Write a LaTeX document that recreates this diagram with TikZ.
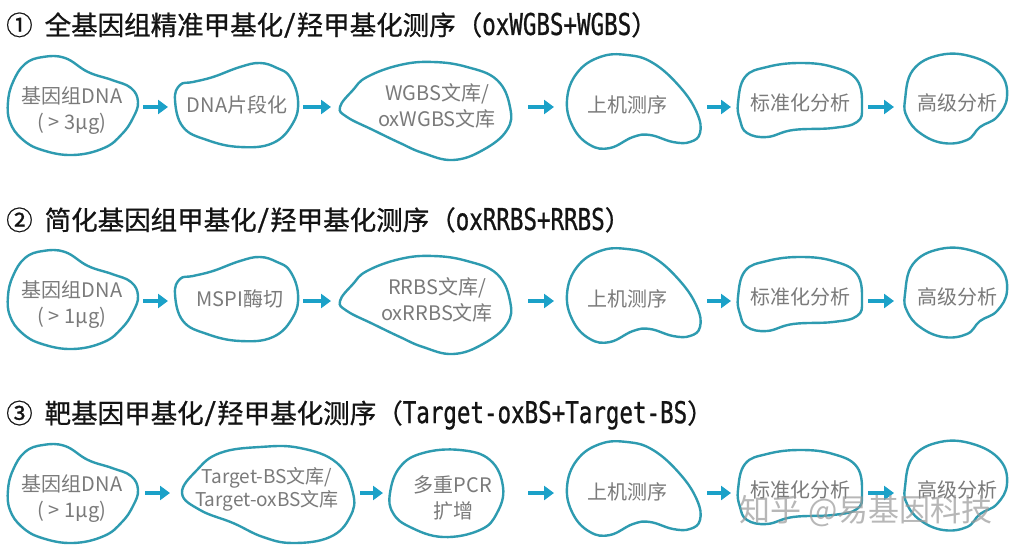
\documentclass[tikz,border=0pt]{standalone}
\usepackage{fontspec}
\setmainfont{Noto Sans CJK SC}
\newfontfamily\ttlcjk[FakeBold=0.8]{Noto Sans CJK SC}
\newfontfamily\ttlat[FakeStretch=0.75,FakeBold=0.8]{DejaVu Sans Mono}
\usetikzlibrary{arrows.meta}
\definecolor{blobc}{HTML}{2E9BB0}
\definecolor{arrc}{HTML}{1BA1C8}
\definecolor{txtc}{HTML}{7A7A7A}
\definecolor{ttlc}{HTML}{141414}
\newcommand\lat[1]{{\ttlat\fontsize{30}{30}\selectfont #1}}
\newcommand\blobA[1]{\draw[blob,shift={#1}] plot[smooth cycle,tension=0.7] coordinates {(-29,-48) (-7,-47) (16,-33) (40,-25) (59,-17) (66,-3) (61,13) (50,29) (32,43) (1,50) (-30,45) (-50,34) (-62,17) (-64,-3) (-59,-23) (-47,-41)};}
\newcommand\blobB[1]{\draw[blob,shift={#1}] plot[smooth cycle,tension=0.7] coordinates {(-62,-5) (-57,-20) (-44,-23) (-24,-28) (3,-38) (23,-42) (40,-37) (53,-28) (61,-5) (56,18) (36,38) (3,42) (-30,35) (-54,22)};}
\newcommand\blobC[1]{\draw[blob,shift={#1}] plot[smooth cycle,tension=0.7] coordinates {(-97,2) (-84,-15) (-70,-28) (-37,-40) (-4,-43) (30,-38) (60,-25) (73,2) (70,25) (46,45) (16,55) (-14,48) (-37,38) (-64,25) (-90,12)};}
\newcommand\blobD[1]{\draw[blob,shift={#1}] plot[smooth cycle,tension=0.7] coordinates {(-60,-5) (-50,-32) (-27,-48) (0,-50) (26,-42) (53,-18) (70,8) (73,28) (63,37) (46,37) (23,30) (6,32) (-17,43) (-37,40) (-54,22)};}
\newcommand\blobE[1]{\draw[blob,shift={#1}] plot[smooth cycle,tension=0.7] coordinates {(-62,0) (-55,-26) (-33,-36) (0,-40) (33,-36) (57,-23) (62,4) (57,19) (33,25) (-7,27) (-33,34) (-53,30) (-60,17)};}
\newcommand\blobF[1]{\draw[blob,shift={#1}] plot[smooth cycle,tension=0.7] coordinates {(-52,-3) (-44,-33) (-17,-48) (16,-46) (43,-30) (50,-6) (40,14) (23,24) (10,37) (-14,40) (-37,30) (-50,14)};}
\newcommand\blobT[1]{\draw[blob,shift={#1}] plot[smooth cycle,tension=0.7] coordinates {(-83,5) (-68,-18) (-45,-35) (-5,-41) (35,-40) (72,-25) (88,5) (85,29) (65,49) (28,55) (-2,49) (-32,35) (-65,22)};}
\newcommand\blobP[1]{\draw[blob,shift={#1}] plot[smooth cycle,tension=0.7] coordinates {(-63,-4) (-53,-30) (-30,-44) (7,-47) (37,-37) (50,-10) (44,16) (27,33) (-10,40) (-43,30) (-60,16)};}
\newcommand\flowarr[4]{\coordinate (#1s) at (#2,#4); \coordinate (#1e) at (#3,#4); \draw[arr] (#1s) -- (#1e);}
\begin{document}
\begin{tikzpicture}[x=1pt,y=-1pt,
  blob/.style={draw=blobc,line width=2.4pt},
  txt/.style={text=txtc,font=\fontsize{20}{26}\selectfont,align=center,inner sep=0pt},
  arr/.style={draw=arrc,line width=4pt,-{Triangle[length=10pt,width=14pt]}},
  ttl/.style={anchor=west,text=ttlc,font=\ttlcjk\fontsize{26.5}{30}\selectfont,inner sep=0pt}]
\useasboundingbox[fill=white] (0,0) rectangle (1014,553);
% titles
\node[ttl] (t1) at (6,25) {①\hspace{12pt}全基因组精准甲基化\lat{/}羟甲基化测序（\lat{oxWGBS+WGBS}）};
\node[ttl] (t2) at (6,220) {②\hspace{12pt}简化基因组甲基化\lat{/}羟甲基化测序（\lat{oxRRBS+RRBS}）};
\node[ttl] (t3) at (6,415) {③\hspace{12pt}靶基因甲基化\lat{/}羟甲基化测序（\lat{Target-oxBS+Target-BS}）};
% row 1
\blobA{(72,105)} \blobB{(237,105)} \blobC{(437,105)} \blobD{(627,105)} \blobE{(800,103)} \blobF{(957,103)}
\node[txt] (r1n1) at (72,111) {基因组DNA\\( > 3µg)};
\node[txt] (r1n2) at (237,105) {DNA片段化};
\node[txt] (r1n3) at (437,106) {WGBS文库/\\oxWGBS文库};
\node[txt] (r1n4) at (627,105) {上机测序};
\node[txt] (r1n5) at (800,103) {标准化分析};
\node[txt] (r1n6) at (957,103) {高级分析};
\flowarr{r1a1}{143}{168}{107}
\flowarr{r1a2}{303}{331}{107}
\flowarr{r1a3}{528}{554}{107}
\flowarr{r1a4}{707}{731}{107}
\flowarr{r1a5}{868}{894}{107}
% row 2
\blobA{(72,299)} \blobB{(237,299)} \blobC{(437,299)} \blobD{(627,299)} \blobE{(800,297)} \blobF{(957,297)}
\node[txt] (r2n1) at (72,305) {基因组DNA\\( > 1µg)};
\node[txt] (r2n2) at (240,299) {MSPI酶切};
\node[txt] (r2n3) at (437,300) {RRBS文库/\\oxRRBS文库};
\node[txt] (r2n4) at (627,299) {上机测序};
\node[txt] (r2n5) at (800,297) {标准化分析};
\node[txt] (r2n6) at (957,297) {高级分析};
\flowarr{r2a1}{143}{168}{301}
\flowarr{r2a2}{303}{331}{301}
\flowarr{r2a3}{528}{554}{301}
\flowarr{r2a4}{707}{731}{301}
\flowarr{r2a5}{868}{894}{301}
% row 3
\blobA{(72,493)} \blobT{(265,488)} \blobP{(453,497)} \blobD{(627,492)} \blobE{(800,490)} \blobF{(957,490)}
\node[txt] (r3n1) at (72,499) {基因组DNA\\( > 1µg)};
\node[txt,font=\fontsize{19}{23}\selectfont] (r3n2) at (267,489) {Target-BS文库/\\Target-oxBS文库};
\node[txt] (r3n3) at (453,498) {多重PCR\\扩增};
\node[txt] (r3n4) at (627,492) {上机测序};
\node[txt] (r3n5) at (800,490) {标准化分析};
\node[txt] (r3n6) at (957,490) {高级分析};
\flowarr{r3a1}{145}{170}{493}
\flowarr{r3a2}{360}{383}{493}
\flowarr{r3a3}{528}{554}{493}
\flowarr{r3a4}{707}{731}{493}
\flowarr{r3a5}{868}{894}{493}
% watermark
\node[text=black!40,opacity=0.7,font=\fontsize{31}{31}\selectfont,inner sep=0pt] (wm) at (866,511) {知乎 @易基因科技};
\end{tikzpicture}
\end{document}
